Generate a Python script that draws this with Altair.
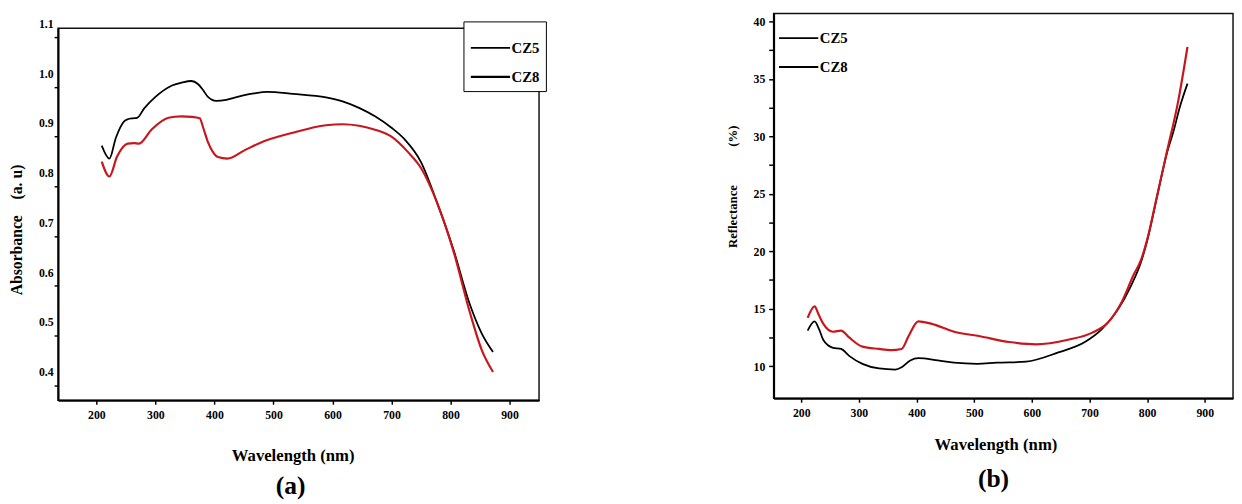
import altair as alt
import pandas as pd

series_names = ["CZ5", "CZ8"]
series_colors = ["#000000", "#c8161d"]

# (a) Absorbance
abs_cz5_wl = [209, 222, 233, 247, 253, 262, 269, 281, 300, 328, 345, 361, 372, 380, 389, 403, 420, 439, 467, 489,
              533, 589, 617, 645, 672, 700, 722, 750, 778, 805, 833, 853, 872]
abs_cz5 = [0.882, 0.856, 0.898, 0.931, 0.935, 0.937, 0.938, 0.957, 0.980, 1.003, 1.009, 1.012, 1.006, 0.995, 0.980,
           0.972, 0.974, 0.980, 0.987, 0.990, 0.986, 0.979, 0.971, 0.958, 0.941, 0.918, 0.895, 0.849, 0.765, 0.673,
           0.562, 0.504, 0.467]
abs_cz8_wl = [209, 222, 235, 253, 264, 272, 294, 322, 344, 362, 375, 381, 389, 397, 406, 422, 450, 478, 533, 589,
              617, 645, 672, 700, 728, 750, 778, 805, 833, 853, 872]
abs_cz8 = [0.850, 0.820, 0.860, 0.886, 0.887, 0.886, 0.915, 0.938, 0.941, 0.940, 0.937, 0.918, 0.889, 0.870, 0.859,
           0.856, 0.872, 0.888, 0.908, 0.923, 0.925, 0.922, 0.914, 0.900, 0.869, 0.837, 0.765, 0.670, 0.546, 0.471,
           0.427]

# (b) Reflectance
ref_cz5_wl = [211, 223, 231, 238, 255, 269, 283, 306, 335, 363, 374, 389, 403, 437, 465, 505, 539, 590, 646, 692,
              721, 749, 772, 789, 800, 817, 834, 846, 857, 870]
ref_cz5 = [13.1, 13.9, 13.2, 12.3, 11.6, 11.5, 10.9, 10.2, 9.8, 9.7, 9.9, 10.5, 10.7, 10.5, 10.3, 10.2, 10.3, 10.4,
           11.2, 12.1, 13.2, 14.9, 17.0, 19.0, 20.9, 24.7, 28.5, 30.5, 32.6, 34.6]
ref_cz8_wl = [211, 223, 230, 238, 255, 269, 283, 306, 335, 355, 374, 386, 403, 425, 465, 510, 561, 607, 663, 704,
              732, 755, 777, 789, 800, 817, 834, 854, 870]
ref_cz8 = [14.2, 15.2, 14.5, 13.7, 13.0, 13.1, 12.5, 11.7, 11.5, 11.4, 11.5, 12.6, 13.9, 13.7, 13.0, 12.6, 12.1,
           11.9, 12.3, 12.9, 13.8, 15.5, 18.0, 19.2, 21.0, 24.8, 28.6, 33.1, 37.8]

x_ticks = [200, 300, 400, 500, 600, 700, 800, 900]
abs_ticks = [0.4, 0.5, 0.6, 0.7, 0.8, 0.9, 1.0, 1.1]
ref_ticks = [10, 12.5, 15, 17.5, 20, 22.5, 25, 27.5, 30, 32.5, 35, 37.5, 40]

FONT = "Liberation Serif"
NB = "\u00a0"


def long_table(wl1, v1, wl2, v2):
    names = [series_names[0]] * len(wl1) + [series_names[1]] * len(wl2)
    return pd.DataFrame({"wl": wl1 + wl2, "v": v1 + v2, "series": names, "sample": names})


abs_df = long_table(abs_cz5_wl, abs_cz5, abs_cz8_wl, abs_cz8)
ref_df = long_table(ref_cz5_wl, ref_cz5, ref_cz8_wl, ref_cz8)

color_enc = alt.Color("series:N", scale=alt.Scale(domain=series_names, range=series_colors), legend=None)

legend_common = dict(
    title=None, symbolType="stroke", symbolSize=1600, symbolStrokeColor="black",
    labelFont=FONT, labelFontWeight="bold", labelFontSize=15, labelColor="black", labelOffset=0,
)


def width_enc(legend):
    return alt.StrokeWidth("sample:O", scale=alt.Scale(domain=series_names, range=[1.8, 2.2]), legend=legend)


chart_a = alt.Chart(abs_df).mark_line(interpolate="monotone").encode(
    x=alt.X("wl:Q", scale=alt.Scale(domain=[135, 950], nice=False, zero=False),
            axis=alt.Axis(values=x_ticks, title="Wavelength (nm)", tickSize=4, labelPadding=6,
                          titlePadding=27, titleFontSize=17, titleX=239)),
    y=alt.Y("v:Q", scale=alt.Scale(domain=[0.370, 1.118], nice=False, zero=False),
            axis=alt.Axis(values=abs_ticks, format=".1f", title="Absorbance" + NB * 4 + "(a. u)", tickSize=4,
                          labelPadding=1, labelOffset=-14, titlePadding=14, titleFontSize=16, titleY=205)),
    color=color_enc,
    strokeWidth=width_enc(alt.Legend(orient="top-right", offset=-7, strokeColor="black", fillColor="white",
                                     padding=6, rowPadding=-26, **legend_common)),
).properties(
    width=490, height=379,
    title=alt.TitleParams("(a)", orient="bottom", font=FONT, fontWeight="bold", fontSize=26, color="black",
                          offset=10, dx=-8),
)

# invisible, empty spacer that lowers panel (a) a little relative to panel (b)
spacer = alt.Chart(pd.DataFrame({"s": pd.Series([], dtype=float)})).mark_point(opacity=0).encode(
    x=alt.X("s:Q", axis=None), y=alt.Y("s:Q", axis=None)
).properties(width=490, height=1, view=alt.ViewBackground(stroke=None, strokeWidth=0))

chart_b = alt.Chart(ref_df).mark_line(interpolate="monotone").encode(
    x=alt.X("wl:Q", scale=alt.Scale(domain=[152, 949], nice=False, zero=False),
            axis=alt.Axis(values=x_ticks, title="Wavelength (nm)", tickSize=4, labelPadding=6,
                          titlePadding=18, titleFontSize=17, titleX=226)),
    y=alt.Y("v:Q", scale=alt.Scale(domain=[7.2, 40.7], nice=False, zero=False),
            axis=alt.Axis(values=ref_ticks, labelExpr="datum.value % 5 === 0 ? datum.label : ''",
                          title="Reflectance" + NB * 12 + "(%)", tickSize=5, labelPadding=4, titlePadding=14,
                          titleFontSize=13, titleY=176)),
    color=color_enc,
    strokeWidth=width_enc(alt.Legend(orient="top-left", offset=4, padding=0, rowPadding=-22, **legend_common)),
).properties(
    width=468, height=392,
    title=alt.TitleParams("(b)", orient="bottom", font=FONT, fontWeight="bold", fontSize=26, color="black",
                          offset=14, dx=-10),
)

left_col = alt.vconcat(spacer, chart_a, spacing=2).resolve_scale(
    x="independent", y="independent", strokeWidth="independent"
).resolve_legend(strokeWidth="independent")

right_col = alt.vconcat(chart_b, spacing=0).resolve_scale(
    x="independent", y="independent", strokeWidth="independent"
).resolve_legend(strokeWidth="independent")

chart = alt.hconcat(left_col, right_col, spacing=181).resolve_scale(
    x="independent", y="independent", color="independent", strokeWidth="independent"
).resolve_legend(
    strokeWidth="independent"
).properties(
    padding={"left": 0, "top": 0, "right": 0, "bottom": 0},
    background="white",
).configure_view(
    stroke="#111111", strokeWidth=1.5
).configure_axis(
    grid=False, domainColor="black", domainWidth=2, tickColor="black", tickWidth=1.5,
    labelFont=FONT, labelFontWeight="bold", labelFontSize=12, labelColor="black",
    titleFont=FONT, titleFontWeight="bold", titleColor="black",
)

chart.save("out.html", embed_options={"renderer": "svg", "actions": False})
